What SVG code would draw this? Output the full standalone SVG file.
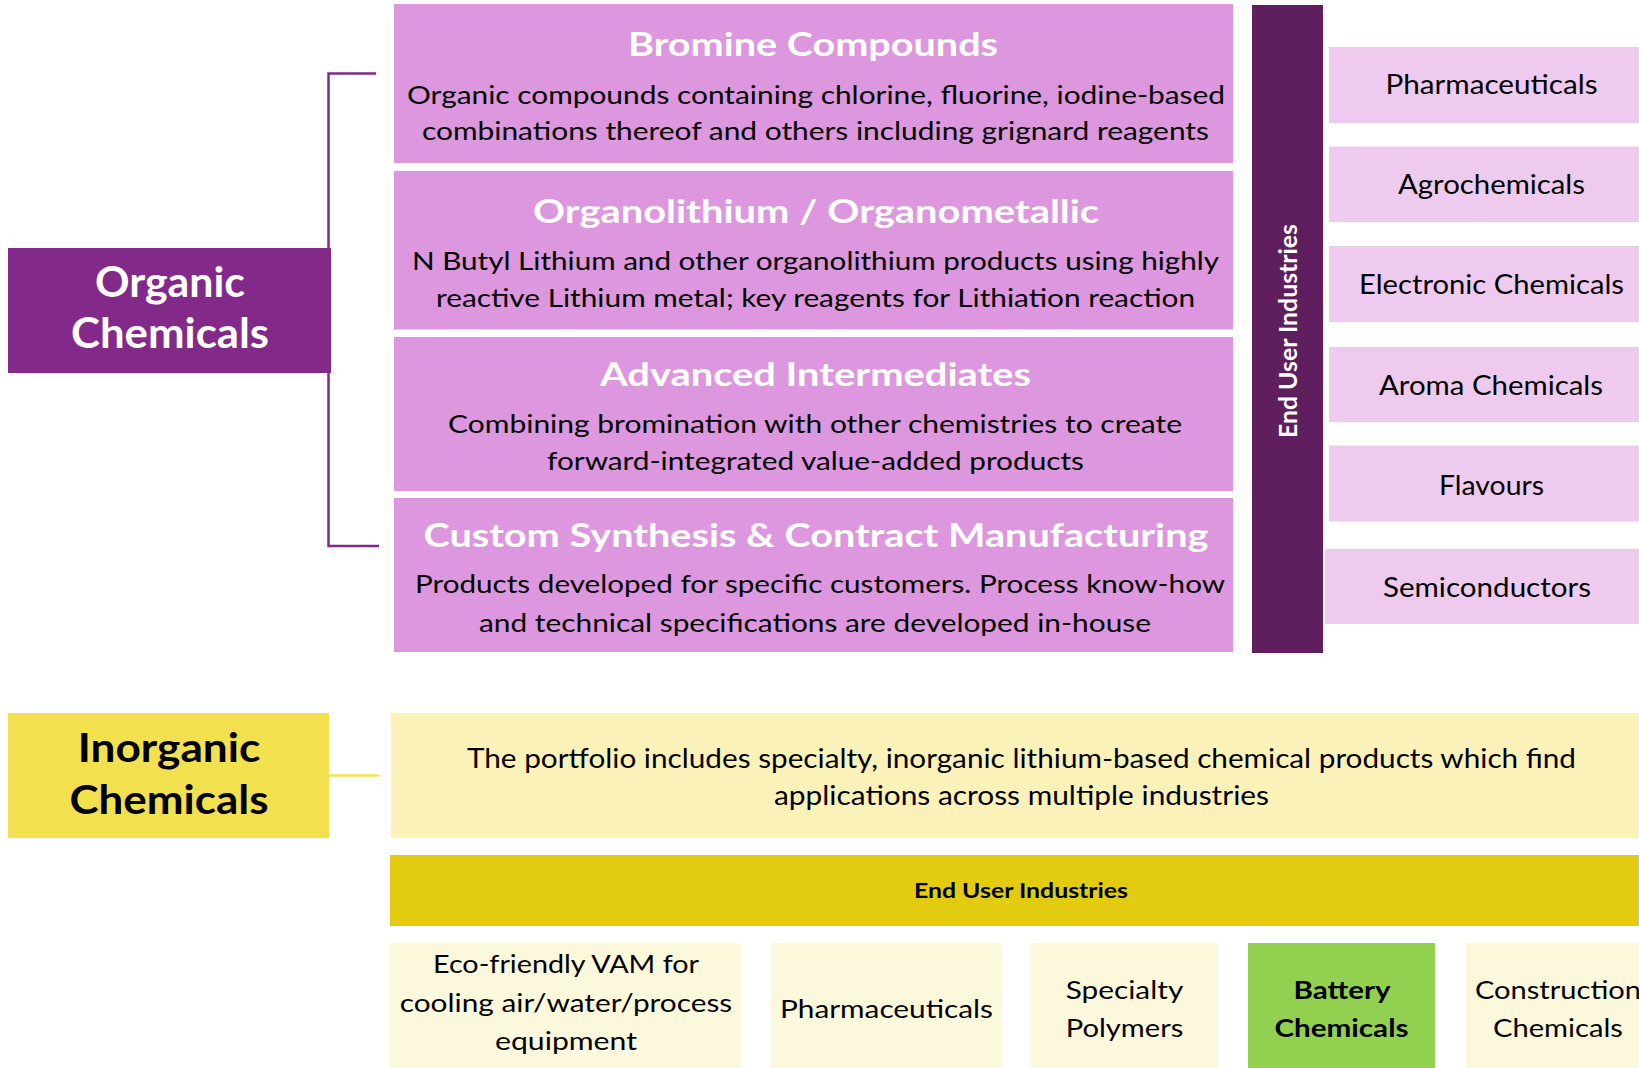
<svg xmlns="http://www.w3.org/2000/svg" width="1639" height="1068" viewBox="0 0 1639 1068">
<style>
text{font-family:Lato,"Open Sans","Liberation Sans",sans-serif;text-anchor:middle}
.t{font-weight:700;font-size:32px;fill:#ffffff}
.d{font-size:25.5px;fill:#000000}
.r{font-size:27px;fill:#000000}
.pink{fill:#DC97DE}
.lpink{fill:#EECBEE}
.cream{fill:#FCF8DC}
.conn{fill:none;stroke-width:2.5}
</style>
<g id="connectors">
<path class="conn" d="M376,73.5 H328.5 V546 H379" stroke="#83298A"/>
<path class="conn" d="M329,775.5 H379" stroke="#F3E04F" stroke-width="3"/>
</g>
<g id="organic-chemicals">
<rect x="8" y="248" width="323" height="125" fill="#83298A"/>
<text x="170" y="297" font-size="42" font-weight="700" fill="#fff" textLength="150" lengthAdjust="spacingAndGlyphs">Organic</text>
<text x="170" y="348" font-size="42" font-weight="700" fill="#fff" textLength="198" lengthAdjust="spacingAndGlyphs">Chemicals</text>
</g>
<g id="bromine-compounds">
<rect class="pink" x="394" y="4" width="839" height="159"/>
<text class="t" x="813" y="56" textLength="370" lengthAdjust="spacingAndGlyphs">Bromine Compounds</text>
<text class="d" x="816" y="103.5" textLength="818" lengthAdjust="spacingAndGlyphs">Organic compounds containing chlorine, fluorine, iodine-based</text>
<text class="d" x="815.5" y="140" textLength="787" lengthAdjust="spacingAndGlyphs">combinations thereof and others including grignard reagents</text>
</g>
<g id="organolithium">
<rect class="pink" x="394" y="171" width="839" height="158.5"/>
<text class="t" x="816" y="222.5" textLength="566" lengthAdjust="spacingAndGlyphs">Organolithium / Organometallic</text>
<text class="d" x="815.5" y="270" textLength="807" lengthAdjust="spacingAndGlyphs">N Butyl Lithium and other organolithium products using highly</text>
<text class="d" x="815.5" y="307" textLength="759" lengthAdjust="spacingAndGlyphs">reactive Lithium metal; key reagents for Lithiation reaction</text>
</g>
<g id="advanced-intermediates">
<rect class="pink" x="394" y="337" width="839" height="154"/>
<text class="t" x="815.5" y="386" textLength="431" lengthAdjust="spacingAndGlyphs">Advanced Intermediates</text>
<text class="d" x="815" y="433" textLength="734" lengthAdjust="spacingAndGlyphs">Combining bromination with other chemistries to create</text>
<text class="d" x="815.5" y="470" textLength="537" lengthAdjust="spacingAndGlyphs">forward-integrated value-added products</text>
</g>
<g id="custom-synthesis">
<rect class="pink" x="394" y="498" width="839" height="154"/>
<text class="t" x="816" y="547" textLength="785" lengthAdjust="spacingAndGlyphs">Custom Synthesis &amp; Contract Manufacturing</text>
<text class="d" x="820" y="593" textLength="810" lengthAdjust="spacingAndGlyphs">Products developed for specific customers. Process know-how</text>
<text class="d" x="815" y="632" textLength="672" lengthAdjust="spacingAndGlyphs">and technical specifications are developed in-house</text>
</g>
<g id="organic-end-user-industries">
<rect x="1252" y="5" width="71" height="648" fill="#5F1E5E"/>
<text transform="translate(1297,331) rotate(-90)" x="0" y="0" font-size="24" font-weight="700" fill="#fff" textLength="214" lengthAdjust="spacingAndGlyphs">End User Industries</text>
</g>
<g id="o-pharmaceuticals">
<rect class="lpink" x="1329" y="47" width="310" height="76"/>
<text class="r" x="1491.5" y="93.5" textLength="212" lengthAdjust="spacingAndGlyphs">Pharmaceuticals</text>
</g>
<g id="o-agrochemicals">
<rect class="lpink" x="1329" y="146.5" width="310" height="75.5"/>
<text class="r" x="1491.5" y="194" textLength="187" lengthAdjust="spacingAndGlyphs">Agrochemicals</text>
</g>
<g id="o-electronic">
<rect class="lpink" x="1329" y="246" width="310" height="76"/>
<text class="r" x="1491.5" y="294" textLength="265" lengthAdjust="spacingAndGlyphs">Electronic Chemicals</text>
</g>
<g id="o-aroma">
<rect class="lpink" x="1329" y="347" width="310" height="75"/>
<text class="r" x="1491" y="394.5" textLength="224" lengthAdjust="spacingAndGlyphs">Aroma Chemicals</text>
</g>
<g id="o-flavours">
<rect class="lpink" x="1329" y="445.5" width="310" height="76"/>
<text class="r" x="1491.5" y="495" textLength="105" lengthAdjust="spacingAndGlyphs">Flavours</text>
</g>
<g id="o-semiconductors">
<rect class="lpink" x="1325" y="549" width="314" height="75"/>
<text class="r" x="1487" y="597" textLength="208" lengthAdjust="spacingAndGlyphs">Semiconductors</text>
</g>
<g id="inorganic-chemicals">
<rect x="8" y="713" width="321" height="125" fill="#F3E04F"/>
<text x="169" y="762" font-size="40" font-weight="700" fill="#000" textLength="182.5" lengthAdjust="spacingAndGlyphs">Inorganic</text>
<text x="169" y="814" font-size="40" font-weight="700" fill="#000" textLength="199" lengthAdjust="spacingAndGlyphs">Chemicals</text>
</g>
<g id="inorganic-description">
<rect x="391" y="713" width="1260" height="125" fill="#FBF2B9"/>
<text x="1021.5" y="768" font-size="27" fill="#000" textLength="1109" lengthAdjust="spacingAndGlyphs">The portfolio includes specialty, inorganic lithium-based chemical products which find</text>
<text x="1021.5" y="805" font-size="27" fill="#000" textLength="495" lengthAdjust="spacingAndGlyphs">applications across multiple industries</text>
</g>
<g id="inorganic-end-user-industries">
<rect x="390" y="855" width="1260" height="71" fill="#E3CC10"/>
<text x="1021" y="898" font-size="21" font-weight="700" fill="#000" textLength="214" lengthAdjust="spacingAndGlyphs">End User Industries</text>
</g>
<g id="i-vam">
<rect class="cream" x="390" y="943" width="351" height="125"/>
<text class="d" x="566" y="973" textLength="266" lengthAdjust="spacingAndGlyphs">Eco-friendly VAM for</text>
<text class="d" x="566" y="1012" textLength="332.5" lengthAdjust="spacingAndGlyphs">cooling air/water/process</text>
<text class="d" x="566" y="1050" textLength="142" lengthAdjust="spacingAndGlyphs">equipment</text>
</g>
<g id="i-pharmaceuticals">
<rect class="cream" x="771" y="943" width="230" height="125"/>
<text class="d" x="886.5" y="1018" textLength="213" lengthAdjust="spacingAndGlyphs">Pharmaceuticals</text>
</g>
<g id="i-specialty-polymers">
<rect class="cream" x="1031" y="943" width="187" height="125"/>
<text class="d" x="1124.5" y="999" textLength="117.5" lengthAdjust="spacingAndGlyphs">Specialty</text>
<text class="d" x="1124.5" y="1037" textLength="117.5" lengthAdjust="spacingAndGlyphs">Polymers</text>
</g>
<g id="i-battery-chemicals">
<rect x="1248" y="943" width="187" height="125" fill="#92D050"/>
<text class="d" x="1342" y="999" font-weight="700" textLength="97" lengthAdjust="spacingAndGlyphs">Battery</text>
<text class="d" x="1341.5" y="1037" font-weight="700" textLength="134" lengthAdjust="spacingAndGlyphs">Chemicals</text>
</g>
<g id="i-construction-chemicals">
<rect class="cream" x="1466" y="943" width="180" height="125"/>
<text class="d" x="1558" y="999" textLength="166" lengthAdjust="spacingAndGlyphs">Construction</text>
<text class="d" x="1558" y="1037" textLength="130" lengthAdjust="spacingAndGlyphs">Chemicals</text>
</g>
</svg>
